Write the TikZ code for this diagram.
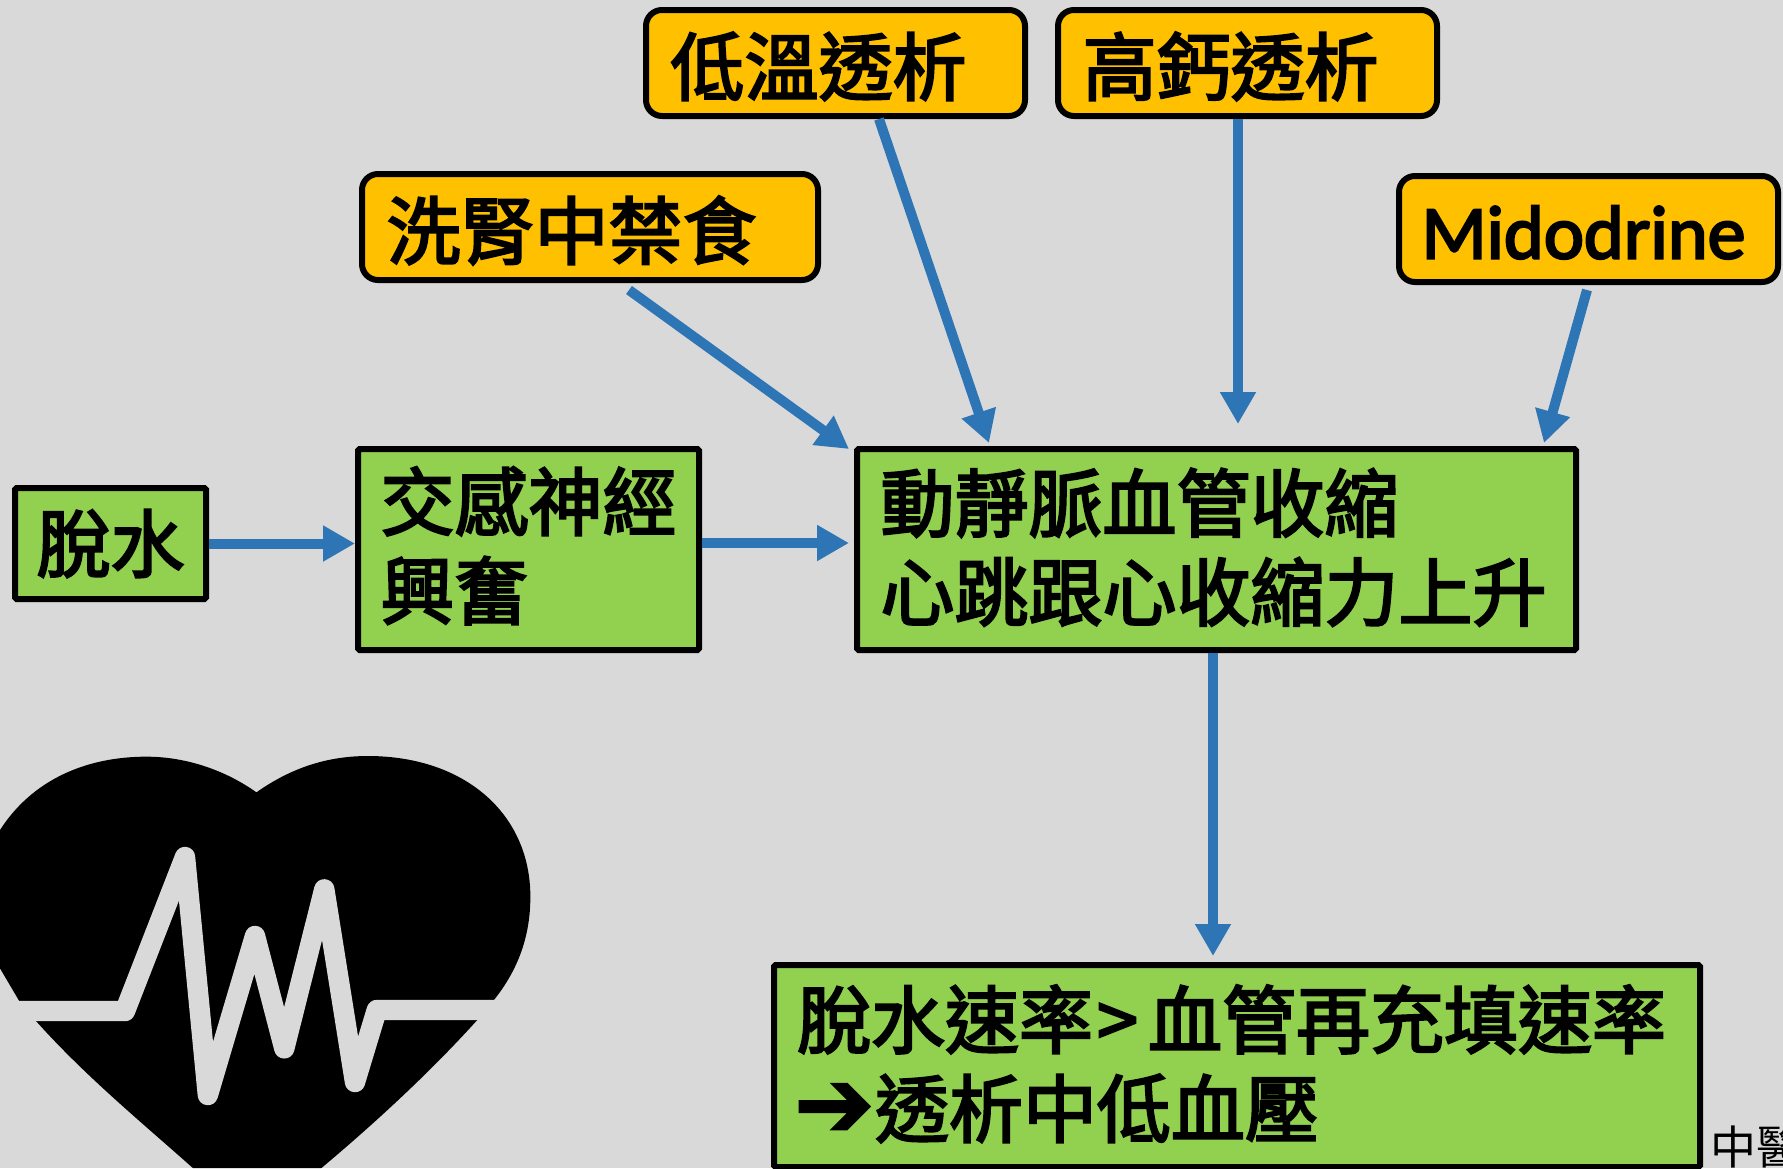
\documentclass[tikz,border=0pt]{standalone}
\usepackage{fontspec}
\usetikzlibrary{arrows.meta}
\setmainfont{Noto Sans CJK TC}
\newfontfamily\cjkheavy{Noto Sans CJK TC}[FakeBold=3]
\newfontfamily\latinbold{Carlito}[FakeBold=3]
\newfontfamily\arrowfont{DejaVu Sans}[FakeBold=2]
\definecolor{bgc}{HTML}{D9D9D9}
\definecolor{greenc}{HTML}{92D050}
\definecolor{orangec}{HTML}{FFC000}
\definecolor{bluec}{HTML}{2E75B6}
\newcommand{\lift}[2]{\raisebox{#1}[\height][\depth]{#2}}
\newcommand{\twoline}[2]{\vbox{\hbox{#1}\hbox{#2}}}
\tikzset{
  x=0.5pt,y=-0.5pt,
  basebox/.style={draw=black,align=left,inner xsep=14pt,inner ysep=0pt,
    font=\cjkheavy\fontsize{37}{44.5}\selectfont},
  greenbox/.style={basebox,fill=greenc,line width=3pt,rounded corners=0.8pt},
  orangebox/.style={basebox,fill=orangec,line width=3pt,rounded corners=8pt,minimum height=53pt,minimum width=189.5pt,text width=164.9pt,inner xsep=12.3pt},
  flow/.style={draw=bluec,line width=5pt,-{Triangle[length=16pt,width=17pt]}},
}
\begin{document}
\begin{tikzpicture}
\clip (0,0) rectangle (1783,1168);
\useasboundingbox (0,0) rectangle (1783,1168);
\fill[bgc] (0,0) rectangle (1783,1168);

% heart
\begin{scope}[shift={(0,730)},x=0.17857pt,y=-0.16667pt]
\fill[black] (718,187) .. controls (630,120) and (520,80) .. (410,80)
  .. controls (240,80) and (90,150) .. (0,300)
  -- (-20,500) -- (0,715) -- (55,815) -- (100,872)
  .. controls (240,1040) and (400,1180) .. (540,1314)
  -- (900,1314) .. controls (1060,1170) and (1210,1020) .. (1338,868)
  -- (1383,810) .. controls (1450,720) and (1485,620) .. (1485,500)
  .. controls (1485,250) and (1300,78) .. (1030,78)
  .. controls (900,78) and (800,125) .. (718,187) -- cycle;
\draw[bgc,line width=10.2pt,line join=round,line cap=round]
  (0,843) -- (350,843) -- (518,381) -- (582,1095) -- (714,618) -- (796,955)
  -- (908,478) -- (994,1056) -- (1055,840) -- (1568,840);
\end{scope}

% boxes
\node[orangebox] (low) at (835.5,63) {\lift{-1.7pt}{低溫透析}};
\node[orangebox] (calc) at (1247.5,63) {\lift{-1.7pt}{高鈣透析}};
\node[orangebox,text width=203.4pt,minimum width=228pt] (fast) at (590,227) {\lift{-1.7pt}{洗腎中禁食}};
\node[orangebox,inner xsep=11.3pt,text width=166.9pt] (mido) at (1588.5,229)
  {\lift{-1.7pt}{\latinbold\fontsize{38}{40}\selectfont Midodrine}};
\node[greenbox,text width=74pt,inner xsep=10.75pt,minimum height=55.5pt] (dehyd) at (110.5,543.5) {脫水};
\node[greenbox,text width=148pt,inner xsep=11.25pt,minimum height=100.5pt] (symp) at (528.5,549.5)
  {\lift{1.9pt}{\twoline{交感神經}{興奮}}};
\node[greenbox,text width=336pt,inner xsep=11.75pt,minimum height=100.5pt] (vaso) at (1216.5,549.5)
  {\lift{1.1pt}{\twoline{動靜脈血管收縮}{心跳跟心收縮力上升}}};
\node[greenbox,text width=440pt,inner xsep=11.5pt,minimum height=101pt] (result) at (1237,1066)
  {\lift{1.1pt}{\twoline{脫水速率\kern2pt{}>\kern5pt{}血管再充填速率}{\makebox[39pt][l]{\arrowfont\fontsize{48}{48}\selectfont\kern-1.5pt ➔}透析中低血壓}}};
\node[anchor=west,inner sep=0pt,font=\fontsize{23}{26}\selectfont] (note) at (1710,1147) {中醫};

% connector free ends
\coordinate (s1) at (629,290);
\coordinate (e1) at (849,449);
\coordinate (s2) at (879,117);
\coordinate (e2) at (989,443);
\coordinate (s3) at (1238,117);
\coordinate (e3) at (1238,424);
\coordinate (s4) at (1587,290);
\coordinate (e4) at (1544,443);
\coordinate (e5) at (849,543);
\coordinate (s7) at (1213,650);
\coordinate (e7) at (1213,956);

\draw[flow] (s1) -- (e1);
\draw[flow] (low.south -| s2) -- (e2);
\draw[flow] (calc.south -| s3) -- (e3);
\draw[flow] (s4) -- (e4);
\draw[flow] (dehyd.east) -- (dehyd.east -| symp.west);
\draw[flow] (symp.east |- e5) -- (e5);
\draw[flow] (vaso.south -| s7) -- (e7);
\end{tikzpicture}
\end{document}
